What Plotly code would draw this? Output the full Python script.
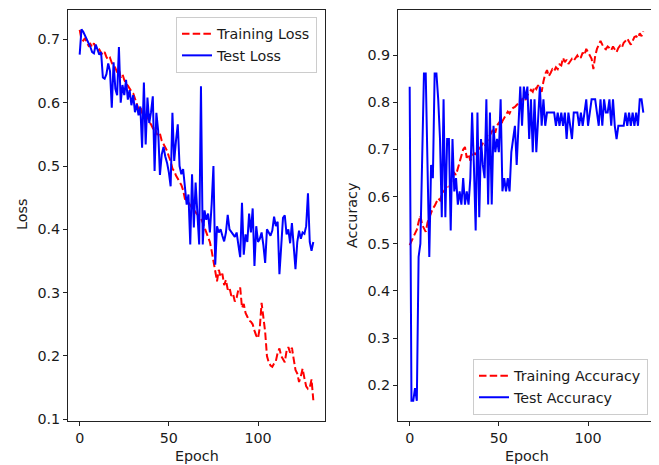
import plotly.graph_objects as go

epochs = list(range(132))

train_loss = [
    0.715, 0.700, 0.698, 0.702, 0.695, 0.690, 0.693, 0.688, 0.694, 0.686,
    0.682, 0.684, 0.679, 0.676, 0.680, 0.672, 0.668, 0.671, 0.663, 0.659,
    0.655, 0.648, 0.652, 0.640, 0.645, 0.636, 0.630, 0.627, 0.622, 0.618,
    0.615, 0.606, 0.598, 0.590, 0.594, 0.584, 0.580, 0.576, 0.579, 0.569,
    0.566, 0.560, 0.563, 0.552, 0.548, 0.551, 0.540, 0.534, 0.529, 0.524,
    0.515, 0.508, 0.496, 0.492, 0.485, 0.480, 0.476, 0.470, 0.462, 0.448,
    0.446, 0.441, 0.438, 0.434, 0.430, 0.426, 0.424, 0.420, 0.418, 0.410,
    0.402, 0.396, 0.386, 0.380, 0.366, 0.348, 0.332, 0.318, 0.336, 0.325,
    0.330, 0.312, 0.320, 0.305, 0.308, 0.295, 0.298, 0.286, 0.292, 0.305,
    0.308, 0.276, 0.282, 0.268, 0.262, 0.256, 0.254, 0.250, 0.240, 0.232,
    0.228, 0.245, 0.284, 0.262, 0.238, 0.200, 0.190, 0.185, 0.183, 0.188,
    0.192, 0.205, 0.212, 0.200, 0.196, 0.190, 0.208, 0.214, 0.205, 0.213,
    0.195, 0.178, 0.172, 0.159, 0.168, 0.180, 0.165, 0.152, 0.148, 0.150,
    0.163, 0.130,
]

test_loss = [
    0.676, 0.716, 0.712, 0.706, 0.700, 0.695, 0.688, 0.680, 0.678, 0.692,
    0.685, 0.676, 0.680, 0.640, 0.638, 0.645, 0.662, 0.650, 0.592, 0.664,
    0.622, 0.612, 0.688, 0.600, 0.628, 0.612, 0.636, 0.605, 0.620, 0.596,
    0.612, 0.585, 0.598, 0.580, 0.594, 0.529, 0.632, 0.534, 0.608, 0.568,
    0.585, 0.610, 0.492, 0.584, 0.556, 0.486, 0.518, 0.530, 0.515, 0.505,
    0.490, 0.468, 0.584, 0.508, 0.540, 0.566, 0.500, 0.487, 0.495, 0.470,
    0.439, 0.455, 0.376, 0.487, 0.403, 0.474, 0.420, 0.376, 0.626, 0.376,
    0.430, 0.415, 0.425, 0.395, 0.440, 0.500, 0.344, 0.405, 0.395, 0.400,
    0.390, 0.381, 0.395, 0.423, 0.400, 0.395, 0.392, 0.388, 0.395, 0.375,
    0.356, 0.442, 0.360, 0.392, 0.380, 0.425, 0.395, 0.433, 0.342, 0.405,
    0.380, 0.385, 0.395, 0.375, 0.347, 0.400, 0.395, 0.390, 0.398, 0.420,
    0.405, 0.412, 0.329, 0.380, 0.418, 0.422, 0.392, 0.400, 0.378, 0.410,
    0.365, 0.337, 0.380, 0.398, 0.385, 0.395, 0.393, 0.405, 0.457, 0.380,
    0.366, 0.380,
]

train_acc = [
    0.497, 0.505, 0.512, 0.520, 0.530, 0.546, 0.560, 0.540, 0.532, 0.525,
    0.545, 0.555, 0.567, 0.575, 0.580, 0.588, 0.596, 0.592, 0.604, 0.610,
    0.615, 0.622, 0.618, 0.630, 0.639, 0.650, 0.646, 0.660, 0.672, 0.690,
    0.700, 0.705, 0.682, 0.690, 0.676, 0.684, 0.692, 0.690, 0.696, 0.700,
    0.708, 0.712, 0.706, 0.716, 0.722, 0.730, 0.737, 0.744, 0.735, 0.751,
    0.756, 0.748, 0.760, 0.766, 0.772, 0.780, 0.776, 0.784, 0.788, 0.790,
    0.794, 0.798, 0.794, 0.806, 0.810, 0.805, 0.815, 0.820, 0.826, 0.822,
    0.833, 0.828, 0.836, 0.828, 0.822, 0.844, 0.860, 0.868, 0.855, 0.862,
    0.870, 0.866, 0.874, 0.870, 0.880, 0.878, 0.894, 0.885, 0.890, 0.881,
    0.886, 0.892, 0.888, 0.894, 0.899, 0.892, 0.895, 0.905, 0.900, 0.913,
    0.905, 0.898, 0.892, 0.870, 0.898, 0.913, 0.920, 0.930, 0.922, 0.915,
    0.912, 0.918, 0.915, 0.910, 0.918, 0.912, 0.906, 0.915, 0.920, 0.916,
    0.926, 0.930, 0.935, 0.928, 0.922, 0.930, 0.938, 0.940, 0.936, 0.946,
    0.940, 0.950,
]

test_acc = [
    0.833, 0.167, 0.167, 0.194, 0.167, 0.472, 0.500, 0.694, 0.861, 0.861,
    0.667, 0.472, 0.667, 0.639, 0.861, 0.861, 0.806, 0.722, 0.556, 0.806,
    0.556, 0.722, 0.722, 0.528, 0.722, 0.611, 0.639, 0.583, 0.611, 0.583,
    0.639, 0.583, 0.611, 0.583, 0.639, 0.778, 0.667, 0.528, 0.778, 0.556,
    0.722, 0.667, 0.639, 0.806, 0.583, 0.778, 0.583, 0.750, 0.694, 0.722,
    0.694, 0.806, 0.611, 0.639, 0.611, 0.639, 0.611, 0.694, 0.722, 0.750,
    0.667, 0.750, 0.833, 0.750, 0.833, 0.806, 0.833, 0.722, 0.806, 0.694,
    0.806, 0.694, 0.778, 0.833, 0.750, 0.806, 0.750, 0.778, 0.778, 0.778,
    0.778, 0.778, 0.750, 0.778, 0.750, 0.778, 0.750, 0.778, 0.722, 0.778,
    0.750, 0.722, 0.778, 0.778, 0.778, 0.750, 0.778, 0.750, 0.778, 0.806,
    0.750, 0.778, 0.806, 0.806, 0.806, 0.778, 0.750, 0.806, 0.750, 0.806,
    0.778, 0.778, 0.806, 0.750, 0.806, 0.750, 0.722, 0.750, 0.750, 0.750,
    0.750, 0.778, 0.750, 0.778, 0.750, 0.778, 0.750, 0.778, 0.750, 0.806,
    0.806, 0.778,
]

loss_ticks = [0.1, 0.2, 0.3, 0.4, 0.5, 0.6, 0.7]
acc_ticks = [0.2, 0.3, 0.4, 0.5, 0.6, 0.7, 0.8, 0.9]
epoch_ticks = [0, 50, 100]

FONT = "DejaVu Sans"
FS = 14.3
TXT = "#1a1a1a"
OFF = 8  # default body margin of the html page
W, H = 659 - OFF, 465 - OFF
VSTRETCH = 1.013
RED = "#ff0000"
BLUE = "#0000ff"
LW = 2
DASH = "7.5px,3.2px"


def fx(p):
    return (p - OFF) / W


def fy(p):
    p = 10 + (p - 10) * VSTRETCH
    return (H - (p - OFF)) / H


fig = go.Figure()
fig.add_trace(go.Scatter(x=epochs, y=train_loss, mode="lines", name="Training Loss",
                         line=dict(color=RED, width=LW, dash=DASH),
                         xaxis="x", yaxis="y", legend="legend"))
fig.add_trace(go.Scatter(x=epochs, y=test_loss, mode="lines", name="Test Loss",
                         line=dict(color=BLUE, width=LW),
                         xaxis="x", yaxis="y", legend="legend"))
fig.add_trace(go.Scatter(x=epochs, y=train_acc, mode="lines", name="Training Accuracy",
                         line=dict(color=RED, width=LW, dash=DASH),
                         xaxis="x2", yaxis="y2", legend="legend2"))
fig.add_trace(go.Scatter(x=epochs, y=test_acc, mode="lines", name="Test Accuracy",
                         line=dict(color=BLUE, width=LW),
                         xaxis="x2", yaxis="y2", legend="legend2"))

ydom = [fy(421), fy(10)]
axis_common = dict(showline=True, mirror=True, linecolor="#222", linewidth=1,
                   ticks="outside", ticklen=4, tickcolor="#222", showgrid=False,
                   zeroline=False, tickfont=dict(family=FONT, size=FS, color=TXT))
legend_common = dict(bgcolor="rgba(255,255,255,0.8)", bordercolor="#cccccc", borderwidth=1,
                     font=dict(family=FONT, size=FS, color=TXT))
ann_font = dict(family=FONT, size=FS, color=TXT)

fig.update_layout(
    width=W, height=H,
    margin=dict(l=0, r=0, t=0, b=0),
    paper_bgcolor="white", plot_bgcolor="white",
    font=dict(family=FONT, size=FS, color=TXT),
    xaxis=dict(domain=[fx(68), fx(325)], range=[-6.55, 137.55], tickvals=epoch_ticks,
               anchor="y", **axis_common),
    yaxis=dict(domain=ydom, range=[0.0975, 0.7465], tickvals=loss_ticks,
               tickformat=".1f", anchor="x", **axis_common),
    xaxis2=dict(domain=[fx(398), fx(655)], range=[-6.55, 137.55], tickvals=epoch_ticks,
                anchor="y2", **axis_common),
    yaxis2=dict(domain=ydom, range=[0.1245, 0.9955], tickvals=acc_ticks,
                tickformat=".1f", anchor="x2", **axis_common),
    legend=dict(x=fx(317), xanchor="right", y=fy(17), yanchor="top", **legend_common),
    legend2=dict(x=fx(648), xanchor="right", y=fy(415), yanchor="bottom", **legend_common),
    annotations=[
        dict(text="Epoch", x=fx((68 + 325) / 2), y=fy(456), xref="paper", yref="paper",
             xanchor="center", yanchor="middle", showarrow=False, font=ann_font),
        dict(text="Epoch", x=fx((398 + 655) / 2), y=fy(456), xref="paper", yref="paper",
             xanchor="center", yanchor="middle", showarrow=False, font=ann_font),
        dict(text="Loss", x=fx(22), y=fy(215), xref="paper", yref="paper",
             xanchor="center", yanchor="middle", showarrow=False, textangle=-90, font=ann_font),
        dict(text="Accuracy", x=fx(352), y=fy(215), xref="paper", yref="paper",
             xanchor="center", yanchor="middle", showarrow=False, textangle=-90, font=ann_font),
    ],
)

fig.write_html("out.html")
